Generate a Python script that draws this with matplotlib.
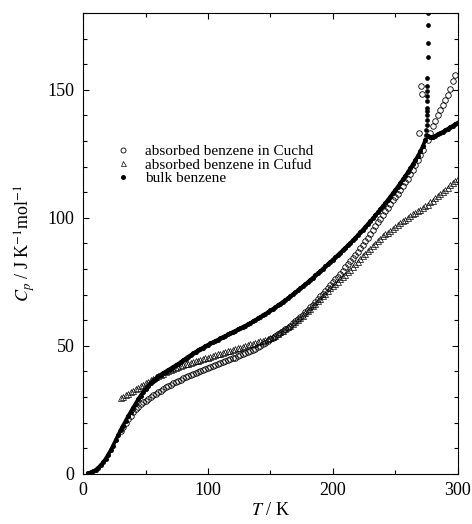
import matplotlib
matplotlib.use("Agg")
import matplotlib.pyplot as plt
from matplotlib.lines import Line2D
from matplotlib.ticker import MultipleLocator

plt.rcParams['font.family'] = ['Liberation Serif', 'DejaVu Serif']
plt.rcParams['mathtext.fontset'] = 'stix'

# bulk benzene, solid phase (T / K, Cp / J K-1 mol-1)
bulk_T = [4, 6, 8, 10, 12, 14, 16, 18, 20, 22,
          24, 26, 28, 30, 32, 34, 36, 38, 40, 42,
          44, 46, 48, 50, 52, 54, 56, 58, 60, 62,
          64, 66, 68, 70, 72, 74, 76, 78, 80, 82,
          84, 86, 88, 90, 92, 94, 96, 98, 100, 102,
          104, 106, 108, 110, 112, 114, 116, 118, 120, 122,
          124, 126, 128, 130, 132, 134, 136, 138, 140, 142,
          144, 146, 148, 150, 152, 154, 156, 158, 160, 162,
          164, 166, 168, 170, 172, 174, 176, 178, 180, 182,
          184, 186, 188, 190, 192, 194, 196, 198, 200, 202,
          204, 206, 208, 210, 212, 214, 216, 218, 220, 222,
          224, 226, 228, 230, 232, 234, 236, 238, 240, 242,
          244, 246, 248, 250, 252, 254, 256, 258, 260, 262,
          264, 266, 268, 270, 272, 274]
bulk_cp = [0.2, 0.5, 0.9, 1.5, 2.3, 3.3, 4.4, 5.8, 7.4, 9.1,
           11.0, 13.0, 15.0, 17.0, 18.8, 20.6, 22.4, 24.1, 25.8, 27.4,
           29.0, 30.5, 31.9, 33.2, 34.4, 35.5, 36.4, 37.2, 38.0, 38.7,
           39.3, 39.9, 40.5, 41.1, 41.7, 42.3, 42.9, 43.6, 44.3, 45.0,
           45.7, 46.3, 47.0, 47.6, 48.2, 48.8, 49.3, 49.9, 50.4, 50.9,
           51.4, 51.9, 52.4, 52.9, 53.4, 53.9, 54.4, 54.9, 55.4, 55.9,
           56.4, 56.9, 57.4, 57.9, 58.4, 58.9, 59.5, 60.1, 60.7, 61.3,
           61.9, 62.5, 63.1, 63.8, 64.4, 65.1, 65.8, 66.5, 67.2, 67.9,
           68.6, 69.4, 70.1, 70.9, 71.7, 72.5, 73.3, 74.1, 74.9, 75.8,
           76.6, 77.5, 78.4, 79.2, 80.1, 81.0, 81.9, 82.8, 83.7, 84.6,
           85.5, 86.4, 87.4, 88.3, 89.3, 90.2, 91.2, 92.2, 93.3, 94.3,
           95.4, 96.5, 97.6, 98.7, 99.8, 101.0, 102.2, 103.4, 104.6, 105.8,
           107.0, 108.3, 109.6, 110.9, 112.2, 113.6, 115.0, 116.4, 117.9, 119.4,
           120.9, 122.5, 124.2, 126.0, 128.0, 130.5]

# melting peak of bulk benzene
peak_T = [274.6, 274.8, 275.0, 275.0, 275.2, 275.2, 275.3, 275.4, 275.5, 275.6,
          275.6, 275.7, 275.8, 275.9, 276.0, 276.1]
peak_cp = [132.5, 134.5, 136.4, 138.4, 140.0, 141.6, 142.9, 145.5, 147.5, 149.4,
           151.4, 154.6, 162.7, 168.3, 175.5, 180.0]

# liquid benzene
liq_T = [276.5, 278, 279, 280, 282, 284, 286, 288, 290, 292, 294, 296, 298, 300]
liq_cp = [131.8, 131.5, 131.4, 131.6, 132.1, 132.6, 133.1, 133.6, 134.2, 134.8,
          135.4, 136.0, 136.6, 137.2]

# absorbed benzene in Cuchd
cuchd_T = [30, 32, 34, 36, 38, 40, 42, 44, 46, 48,
           50, 52, 54, 56, 58, 60, 62, 64, 66, 68,
           70, 72, 74, 76, 78, 80, 82, 84, 86, 88,
           90, 92, 94, 96, 98, 100, 102, 104, 106, 108,
           110, 112, 114, 116, 118, 120, 122, 124, 126, 128,
           130, 132, 134, 136, 138, 140, 142, 144, 146, 148,
           150, 152, 154, 156, 158, 160, 162, 164, 166, 168,
           170, 172, 174, 176, 178, 180, 182, 184, 186, 188,
           190, 192, 194, 196, 198, 200, 202, 204, 206, 208,
           210, 212, 214, 216, 218, 220, 222, 224, 226, 228,
           230, 232, 234, 236, 238, 240, 242, 244, 246, 248,
           250, 252, 254, 256, 258, 260, 262, 264, 266, 268,
           270, 272,
           268.6, 270.5, 271.5, 276.5,
           278, 280, 282, 284, 286, 288, 290, 292, 294, 296, 298]
cuchd_cp = [16.6, 18.2, 19.8, 21.3, 22.7, 24.0, 25.2, 26.2, 27.1, 27.9,
            28.6, 29.3, 30.0, 30.7, 31.3, 31.9, 32.5, 33.1, 33.7, 34.3,
            34.8, 35.3, 35.8, 36.3, 36.8, 37.3, 37.7, 38.1, 38.5, 38.9,
            39.3, 39.7, 40.1, 40.5, 40.9, 41.3, 41.7, 42.1, 42.5, 42.9,
            43.3, 43.7, 44.0, 44.4, 44.7, 45.1, 45.4, 45.8, 46.2, 46.6,
            47.0, 47.4, 47.9, 48.4, 48.9, 49.4, 50.0, 50.6, 51.2, 51.8,
            52.5, 53.1, 53.7, 54.4, 55.0, 55.7, 56.4, 57.1, 57.9, 58.7,
            59.5, 60.3, 61.2, 62.1, 63.0, 64.0, 65.0, 66.0, 67.1, 68.2,
            69.3, 70.4, 71.5, 72.6, 73.7, 74.8, 75.9, 77.0, 78.2, 79.4,
            80.6, 81.8, 83.0, 84.2, 85.5, 86.8, 88.1, 89.5, 90.9, 92.3,
            93.7, 95.2, 96.7, 98.2, 99.7, 101.2, 102.6, 104.0, 105.4, 106.8,
            108.1, 109.4, 110.8, 112.3, 113.8, 115.3, 117.0, 118.8, 120.7, 122.7,
            124.6, 126.6,
            133.2, 151.5, 148.5, 130.5,
            133.0, 135.8, 138.0, 140.0, 142.1, 144.1, 146.0, 148.0, 150.4, 153.4, 156.0]

# absorbed benzene in Cufud
cufud_T = [30, 32, 34, 36, 38, 40, 42, 44, 46, 48,
           50, 52, 54, 56, 58, 60, 62, 64, 66, 68,
           70, 72, 74, 76, 78, 80, 82, 84, 86, 88,
           90, 92, 94, 96, 98, 100, 102, 104, 106, 108,
           110, 112, 114, 116, 118, 120, 122, 124, 126, 128,
           130, 132, 134, 136, 138, 140, 142, 144, 146, 148,
           150, 152, 154, 156, 158, 160, 162, 164, 166, 168,
           170, 172, 174, 176, 178, 180, 182, 184, 186, 188,
           190, 192, 194, 196, 198, 200, 202, 204, 206, 208,
           210, 212, 214, 216, 218, 220, 222, 224, 226, 228,
           230, 232, 234, 236, 238, 240, 242, 244, 246, 248,
           250, 252, 254, 256, 258, 260, 262, 264, 266, 268,
           270, 272, 274, 276, 278, 280, 282, 284, 286, 288,
           290, 292, 294, 296, 298, 300]
cufud_cp = [29.5, 30.0, 30.6, 31.2, 31.8, 32.4, 33.0, 33.6, 34.2, 34.8,
            35.4, 36.0, 36.6, 37.1, 37.6, 38.1, 38.6, 39.1, 39.6, 40.0,
            40.4, 40.8, 41.2, 41.6, 42.0, 42.4, 42.7, 43.0, 43.3, 43.6,
            43.9, 44.2, 44.5, 44.8, 45.1, 45.4, 45.7, 46.0, 46.3, 46.6,
            46.9, 47.2, 47.5, 47.8, 48.1, 48.4, 48.7, 49.0, 49.3, 49.6,
            49.9, 50.2, 50.5, 50.8, 51.1, 51.4, 51.7, 52.0, 52.3, 52.6,
            53.0, 53.5, 54.0, 54.6, 55.2, 55.8, 56.5, 57.2, 57.9, 58.6,
            59.4, 60.2, 61.0, 61.8, 62.7, 63.6, 64.5, 65.4, 66.4, 67.4,
            68.4, 69.4, 70.4, 71.4, 72.4, 73.3, 74.2, 75.1, 76.0, 76.9,
            77.8, 78.7, 79.7, 80.7, 81.8, 82.8, 83.9, 85.0, 86.0, 86.9,
            87.9, 88.8, 89.8, 90.8, 91.8, 92.7, 93.5, 94.2, 95.0, 95.7,
            96.5, 97.2, 97.9, 98.6, 99.3, 100.0, 100.7, 101.3, 101.9, 102.5,
            103.1, 103.8, 104.5, 105.2, 106.0, 106.7, 107.6, 108.4, 109.3, 110.1,
            111.0, 111.8, 112.7, 113.6, 114.5, 115.0]

labels = ['absorbed benzene in Cuchd', 'absorbed benzene in Cufud', 'bulk benzene']

fig = plt.figure(figsize=(4.72, 5.24), dpi=100)
ax = fig.add_axes([0.176, 0.096, 0.794, 0.879])

ax.plot(cuchd_T, cuchd_cp, 'o', ms=4.0, mfc='none', mec='black', mew=0.6)
ax.plot(cufud_T, cufud_cp, '^', ms=4.0, mfc='none', mec='black', mew=0.5)
# dense bulk data: dots drawn over a line of the same width
ax.plot(bulk_T, bulk_cp, 'o-', ms=3.6, lw=2.6, color='black', mew=0)
ax.plot(peak_T, peak_cp, 'o', ms=3.4, color='black', mew=0)
ax.plot(liq_T, liq_cp, 'o-', ms=3.6, lw=2.6, color='black', mew=0)

ax.set_xlim(0, 300)
ax.set_ylim(0, 180)
ax.xaxis.set_major_locator(MultipleLocator(100))
ax.xaxis.set_minor_locator(MultipleLocator(50))
ax.yaxis.set_major_locator(MultipleLocator(50))
ax.yaxis.set_minor_locator(MultipleLocator(10))
ax.tick_params(which='both', direction='in', top=True, right=True, width=0.8,
               labelsize=13)
ax.tick_params(which='major', length=4.5, pad=6)
ax.tick_params(which='minor', length=3)
for s in ax.spines.values():
    s.set_linewidth(0.8)

ax.set_xlabel('$T$ / K', fontsize=13, labelpad=2)
ax.set_ylabel('$C_p$ / J K$^{-1}$mol$^{-1}$', fontsize=13, labelpad=8)

handles = [
    Line2D([], [], ls='none', marker='o', ms=3.6, mfc='none', mec='black', mew=0.6),
    Line2D([], [], ls='none', marker='^', ms=3.6, mfc='none', mec='black', mew=0.5),
    Line2D([], [], ls='none', marker='o', ms=3.6, color='black', mew=0),
]
ax.legend(handles, labels, loc='upper left', bbox_to_anchor=(0.087, 0.715),
          frameon=False, fontsize=11, handlelength=1.0, handletextpad=0.9,
          labelspacing=0.0, borderpad=0, borderaxespad=0)

fig.savefig('out.png', dpi=100)
